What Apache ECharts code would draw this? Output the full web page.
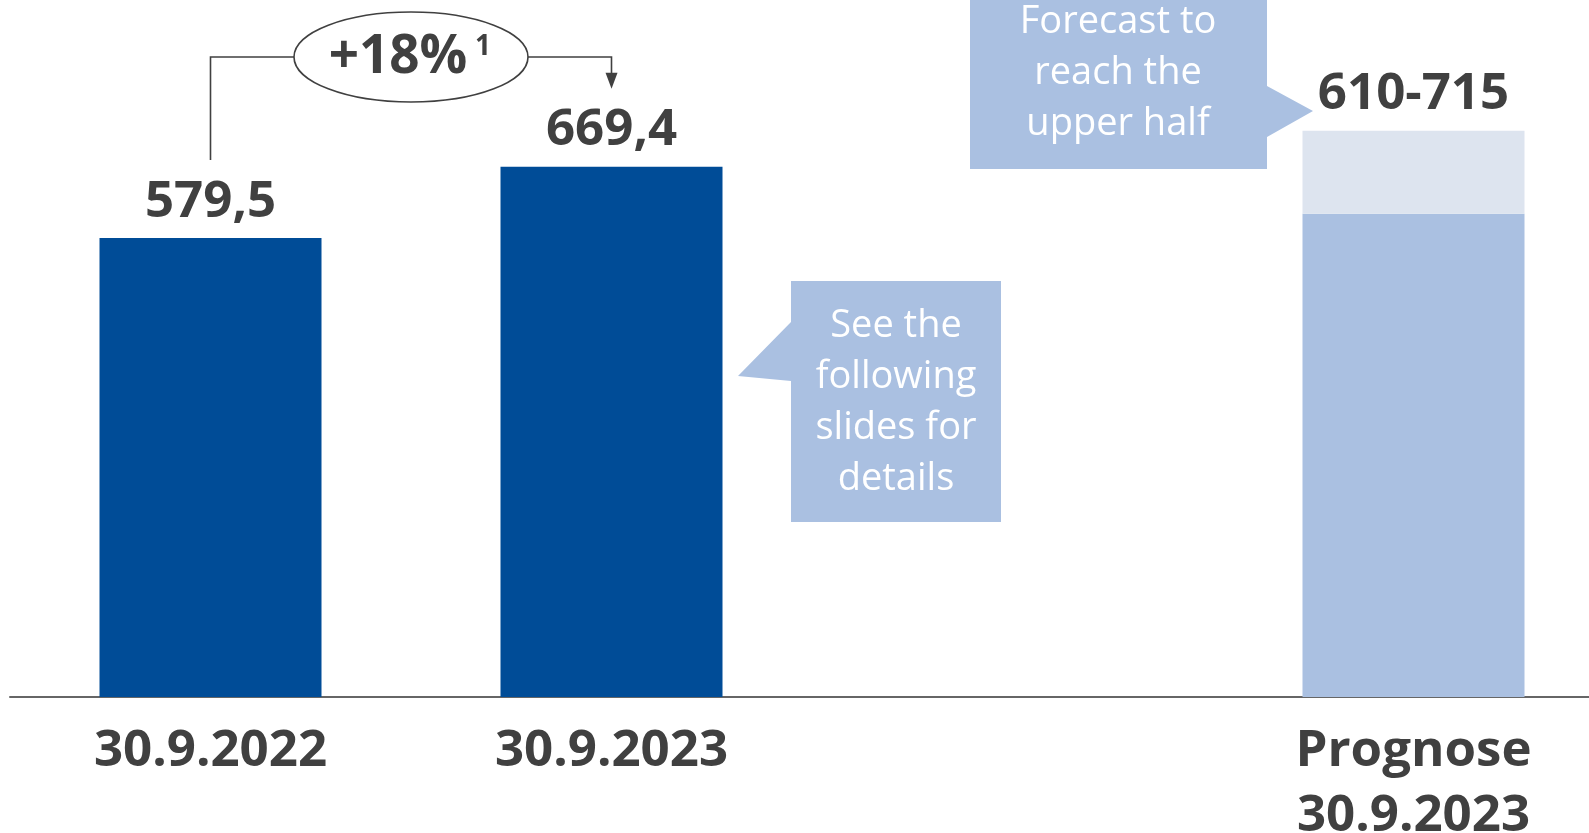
<!DOCTYPE html>
<html>
<head>
<meta charset="utf-8">
<script src="https://cdn.jsdelivr.net/npm/echarts@6/dist/echarts.min.js"></script>
<style>
  html, body { margin: 0; padding: 0; background: #ffffff; }
  #chart { width: 1589px; height: 833px; }
</style>
</head>
<body>
<div id="chart"></div>
<script>
// ---- data ----
const categories = ['30.9.2022', '30.9.2023', '', 'Prognose\n30.9.2023'];
const actualValues = [579.5, 669.4, null, null];
const forecastLow = [null, null, null, 610];
const forecastHigh = [null, null, null, 715];
const valueLabels = ['579,5', '669,4', '', '610-715'];
const growthLabel = '+18%';
const growthNote = '1';
const calloutDetails = 'See the\nfollowing\nslides for\ndetails';
const calloutForecast = 'Forecast to\nreach the\nupper half';

const forecastRange = forecastHigh.map((h, i) => (h == null ? null : h - forecastLow[i]));

const FONT = "'Open Sans', 'Noto Sans', sans-serif";
const TXT = '#404040';
const DARK = '#004C97';
const MID = '#AAC0E1';
const LIGHT = '#DDE4EF';

const chart = echarts.init(document.getElementById('chart'), null, { renderer: 'canvas' });

const labelStyle = {
  show: true,
  position: 'top',
  distance: 11,
  color: TXT,
  fontFamily: FONT,
  fontWeight: 'bold',
  fontSize: 51,
  lineHeight: 50,
  formatter: p => valueLabels[p.dataIndex]
};

chart.setOption({
  animation: false,
  backgroundColor: '#ffffff',
  grid: { left: 10, right: -25, top: 0, bottom: 136, containLabel: false, outerBoundsMode: 'none' },
  xAxis: {
    type: 'category',
    data: categories,
    axisTick: { show: false },
    axisLine: { show: true, lineStyle: { color: '#666666', width: 2 } },
    axisLabel: {
      color: TXT,
      fontFamily: FONT,
      fontWeight: 'bold',
      fontSize: 51,
      lineHeight: 65,
      margin: 22,
      interval: 0
    }
  },
  yAxis: {
    type: 'value',
    min: 0,
    max: 880,
    show: false,
    splitLine: { show: false }
  },
  series: [
    {
      name: 'Actual',
      type: 'bar',
      stack: 'a',
      barWidth: 222,
      data: actualValues,
      itemStyle: { color: DARK },
      label: labelStyle
    },
    {
      name: 'Forecast low',
      type: 'bar',
      stack: 'a',
      barWidth: 222,
      data: forecastLow,
      itemStyle: { color: MID }
    },
    {
      name: 'Forecast range',
      type: 'bar',
      stack: 'a',
      barWidth: 222,
      data: forecastRange,
      itemStyle: { color: LIGHT },
      label: labelStyle
    }
  ]
});

// ---- annotations ----
const p0 = chart.convertToPixel({ xAxisIndex: 0, yAxisIndex: 0 }, [0, actualValues[0]]);
const p1 = chart.convertToPixel({ xAxisIndex: 0, yAxisIndex: 0 }, [1, actualValues[1]]);
const bracketY = 57;
const ellCx = 411, ellRx = 117, ellRy = 45;
const lineStyle = { stroke: '#404040', lineWidth: 1.6, fill: null };
const arrowTip = p1[1] - 78;

chart.setOption({
  graphic: [
    { type: 'polyline', shape: { points: [[p0[0], p0[1] - 78], [p0[0], bracketY], [ellCx - ellRx, bracketY]] }, style: lineStyle, silent: true },
    { type: 'polyline', shape: { points: [[ellCx + ellRx, bracketY], [p1[0], bracketY], [p1[0], arrowTip - 14]] }, style: lineStyle, silent: true },
    { type: 'polygon', shape: { points: [[p1[0] - 6, arrowTip - 16], [p1[0] + 6, arrowTip - 16], [p1[0], arrowTip]] }, style: { fill: '#404040' }, silent: true },
    { type: 'ellipse', shape: { cx: ellCx, cy: bracketY, rx: ellRx, ry: ellRy }, style: { fill: '#ffffff', stroke: '#404040', lineWidth: 1.6 }, silent: true },
    { type: 'text', x: 398, y: 58, style: { text: growthLabel, fill: TXT, font: 'bold 53px ' + FONT, align: 'center', verticalAlign: 'middle' }, silent: true },
    { type: 'text', x: 483, y: 47, style: { text: growthNote, fill: TXT, font: 'bold 28px ' + FONT, align: 'center', verticalAlign: 'middle' }, silent: true },

    // details callout
    { type: 'polygon', shape: { points: [[791, 281], [1001, 281], [1001, 522], [791, 522], [791, 381], [738, 376], [791, 322]] }, style: { fill: MID }, silent: true },
    { type: 'text', x: 896, y: 403, style: { text: calloutDetails, fill: '#ffffff', font: '38px ' + FONT, lineHeight: 51, align: 'center', verticalAlign: 'middle' }, silent: true },

    // forecast callout
    { type: 'polygon', shape: { points: [[970, 0], [1267, 0], [1267, 86], [1313, 111], [1267, 137], [1267, 169], [970, 169]] }, style: { fill: MID }, silent: true },
    { type: 'text', x: 1118, y: 73, style: { text: calloutForecast, fill: '#ffffff', font: '38px ' + FONT, lineHeight: 51, align: 'center', verticalAlign: 'middle' }, silent: true }
  ]
});
</script>
</body>
</html>
